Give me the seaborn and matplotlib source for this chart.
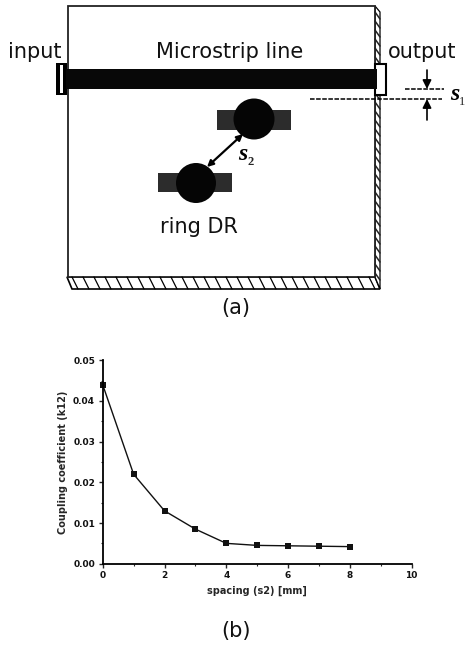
import matplotlib
matplotlib.use("Agg")
import matplotlib.pyplot as plt
import matplotlib.patches as mpatches
import pandas as pd
import seaborn as sns

# ==========================================
# DATA
# ==========================================

spacing = [0, 1, 2, 3, 4, 5, 6, 7, 8]
coupling = [0.044, 0.022, 0.013, 0.0085, 0.005, 0.0045, 0.0044, 0.0043, 0.0042]
x_ticks = [0, 2, 4, 6, 8, 10]
y_ticks = [0.00, 0.01, 0.02, 0.03, 0.04, 0.05]

df = pd.DataFrame({"spacing": spacing, "coupling": coupling})

W, H = 465, 646

sns.set_style("white")
plt.rcParams["font.family"] = ["DejaVu Sans"]

fig = plt.figure(figsize=(W / 100, H / 100), dpi=100)

# ==========================================
# (a) LAYOUT SKETCH, IN PIXEL COORDINATES
# ==========================================

sk = fig.add_axes([0, 0, 1, 1])
sk.set_xlim(0, W)
sk.set_ylim(H, 0)
sk.axis("off")

# hatched edges of the board
sk.add_patch(mpatches.Polygon([(67, 277), (375, 277), (380, 289), (72, 289)],
                              fc="white", ec="black", lw=1.2))
for hx in range(72, 372, 11):
    sk.plot([hx, hx + 6], [277, 289], color="black", lw=0.9)
sk.add_patch(mpatches.Polygon([(375, 6), (380, 12), (380, 289), (375, 277)],
                              fc="white", ec="black", lw=0.9))
for hy in range(12, 280, 9):
    sk.plot([375, 380], [hy, hy + 7], color="#222222", lw=1.1)
sk.add_patch(mpatches.Rectangle((67.5, 6), 307.5, 271, fc="white", ec="#222222", lw=1.3))

# connectors and microstrip line
sk.add_patch(mpatches.Rectangle((56, 63), 11, 32, fc="black", ec="none", zorder=3))
sk.add_patch(mpatches.Rectangle((60, 65), 3, 28, fc="white", ec="none", zorder=3))
sk.add_patch(mpatches.Rectangle((375, 63.5), 10.5, 31, fc="white", ec="black", lw=1.5, zorder=3))
sk.add_patch(mpatches.Rectangle((66, 69), 311, 20, fc="#080808", ec="none", zorder=3))

# ring resonators
for rx, ry, rw, rh, ccx, ccy, r in [(217, 110, 74, 20, 254, 119, 20.5),
                                    (158, 173, 74, 19, 196, 183, 20)]:
    sk.add_patch(mpatches.Rectangle((rx, ry), rw, rh, fc="#2c2c2c", ec="none"))
    sk.add_patch(mpatches.Ellipse((ccx, ccy), 2 * r, 2 * r, fc="#050505", ec="none"))

# s2 arrow
sk.annotate("", xy=(207, 167), xytext=(243, 134),
            arrowprops=dict(arrowstyle="<|-|>", color="black", lw=1.6,
                            mutation_scale=9, shrinkA=0, shrinkB=0))

# s1 markers
sk.plot([405, 444], [89, 89], color="black", lw=1.1, ls=(0, (3, 1)), zorder=4)
sk.plot([310, 442], [99, 99], color="black", lw=1.1, ls=(0, (3, 1)), zorder=4)
sk.annotate("", xy=(427, 89), xytext=(427, 70),
            arrowprops=dict(arrowstyle="-|>", color="black", lw=1.2,
                            mutation_scale=13, shrinkA=0, shrinkB=0))
sk.annotate("", xy=(427, 99), xytext=(427, 120),
            arrowprops=dict(arrowstyle="-|>", color="black", lw=1.2,
                            mutation_scale=13, shrinkA=0, shrinkB=0))

label_style = dict(ha="center", va="center", fontsize=15, color="#111111")
sk.text(35, 52, "input", **label_style)
sk.text(230, 52, "Microstrip line", **label_style)
sk.text(422, 52, "output", **label_style)
sk.text(199, 227, "ring DR", **label_style)
sk.text(236, 308, "(a)", **label_style)
sk.text(236, 631, "(b)", **label_style)

sym_style = dict(family="Liberation Serif", style="italic", weight="bold",
                 color="black", va="center", ha="center")
sk.text(455, 94, "s", fontsize=17, **sym_style)
sk.text(462, 102, "1", fontsize=9, family="Liberation Serif", va="center", ha="center")
sk.text(243, 155, "s", fontsize=17, **sym_style)
sk.text(251, 162, "2", fontsize=9, family="Liberation Serif", weight="bold",
        va="center", ha="center")

# ==========================================
# (b) COUPLING COEFFICIENT PLOT
# ==========================================

ax = fig.add_axes([102.7 / W, 1 - 563.7 / H, 309 / W, 203.4 / H])
ax.patch.set_alpha(0)
sns.lineplot(data=df, x="spacing", y="coupling", ax=ax, color="#111111",
             lw=1.0, marker="s", markersize=4, markeredgewidth=0, clip_on=False)

ax.set_xlim(0, 10)
ax.set_ylim(0, 0.05)
ax.set_xticks(x_ticks)
ax.set_yticks(y_ticks)
ax.set_yticklabels([f"{v:.2f}" for v in y_ticks])
ax.set_xticks([1, 3, 5, 7, 9], minor=True)
ax.set_yticks([0.005, 0.015, 0.025, 0.035, 0.045], minor=True)
ax.tick_params(axis="both", which="major", length=3, width=1.0, direction="out",
               labelsize=6.5, pad=2.5, bottom=True, left=True, labelcolor="#111111")
ax.tick_params(axis="both", which="minor", length=1.5, width=0.8, direction="out",
               bottom=True, left=True)
for lab in ax.get_xticklabels() + ax.get_yticklabels():
    lab.set_fontweight("bold")

ax.set_xlabel("spacing (s2) [mm]", fontsize=7, fontweight="bold", labelpad=4)
ax.set_ylabel("Coupling coefficient (k12)", fontsize=7, fontweight="bold", labelpad=4)

sns.despine(ax=ax)
for side in ("left", "bottom"):
    ax.spines[side].set_linewidth(1.3)
    ax.spines[side].set_color("black")

fig.savefig("out.png", dpi=100)
plt.close(fig)
